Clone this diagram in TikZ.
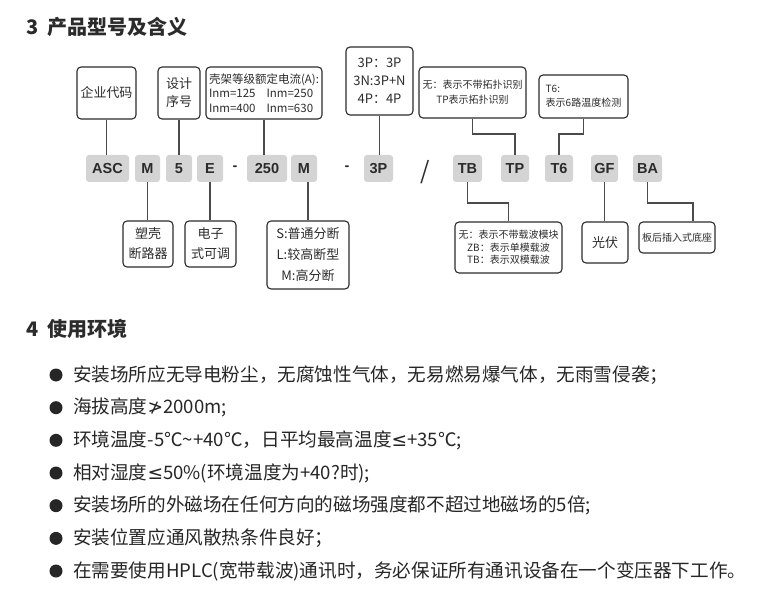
\documentclass[tikz,border=0pt]{standalone}
\usepackage{fontspec}
\setmainfont{Noto Sans CJK SC}
\newfontfamily\codefont{Liberation Sans}
\newfontfamily\symfont{DejaVu Sans}
\usetikzlibrary{calc}
\definecolor{codegray}{HTML}{D4D4D4}
\definecolor{inkgray}{HTML}{2B2B2B}
\begin{document}
\begin{tikzpicture}[x=1pt,y=-1pt,
  codebox/.style={fill=codegray,rounded corners=3pt,minimum height=27pt,inner sep=0pt,
    font=\codefont\bfseries\fontsize{14.5}{16}\selectfont,text=inkgray},
  codemark/.style={inner sep=0pt,font=\codefont\bfseries\fontsize{14.5}{16}\selectfont,text=inkgray},
  notebox/.style={draw=inkgray,line width=1.1pt,rounded corners=4pt,inner sep=0pt,align=center,text=inkgray},
  link/.style={draw=inkgray!85,line width=1.1pt},
  headline/.style={anchor=west,inner sep=0pt,font=\bfseries\fontsize{20}{24}\selectfont,text=inkgray},
  bulletline/.style={anchor=west,inner sep=0pt,font=\fontsize{18.6}{22}\selectfont,text=black!85},
  dot/.style={circle,fill=black!85,inner sep=0pt,minimum size=13pt}]
  \useasboundingbox (0,0) rectangle (764,607);
  % section headings
  \node[headline] (sec3) at (26,27) {3\hspace{9pt}产品型号及含义};
  \node[headline] (sec4) at (26,329) {4\hspace{9pt}使用环境};
  % model code
  \node[codebox,minimum width=43pt] (asc) at (107.5,168.5) {ASC};
  \node[codebox,minimum width=25pt] (m1) at (147.5,168.5) {M};
  \node[codebox,minimum width=26pt] (five) at (179,168.5) {5};
  \node[codebox,minimum width=26pt] (e) at (210,168.5) {E};
  \node[codemark] (dashA) at (235,168) {-};
  \node[codebox,minimum width=40pt] (amp) at (267,168.5) {250};
  \node[codebox,minimum width=26pt] (m2) at (304,168.5) {M};
  \node[codemark] (dashB) at (347,168) {-};
  \node[codebox,minimum width=29pt] (pole) at (378.5,168.5) {3P};
  \node[inner sep=0pt,font=\fontsize{24}{26}\selectfont,text=inkgray] (slash) at (425,172) {/};
  \node[codebox,minimum width=29pt] (tb) at (467.5,168.5) {TB};
  \node[codebox,minimum width=28pt] (tp) at (515,168.5) {TP};
  \node[codebox,minimum width=28pt] (t6) at (559,168.5) {T6};
  \node[codebox,minimum width=27pt] (gf) at (604.5,168.5) {GF};
  \node[codebox,minimum width=29pt] (ba) at (647.5,168.5) {BA};
  % notes above
  \node[notebox,minimum width=59pt,minimum height=52pt,font=\fontsize{13}{17}\selectfont] (maker) at (106.5,93) {企业代码};
  \node[notebox,minimum width=42pt,minimum height=52pt,font=\fontsize{13}{18}\selectfont] (design) at (179,93) {设计\\序号};
  \node[notebox,minimum width=116pt,minimum height=52pt,align=left,font=\fontsize{11.5}{14.5}\selectfont] (frame) at (264,93)
    {壳架等级额定电流(A):\\Inm=125\hspace{11pt}Inm=250\\Inm=400\hspace{11pt}Inm=630};
  \node[notebox,minimum width=67pt,minimum height=68pt,font=\fontsize{13}{18}\selectfont] (poles) at (379.5,81) {3P：3P\\3N:3P+N\\4P：4P};
  \node[notebox,minimum width=107pt,minimum height=51pt,font=\fontsize{10}{15}\selectfont] (topo) at (472.5,92.5) {无：表示不带拓扑识别\\TP表示拓扑识别};
  \node[notebox,minimum width=89pt,minimum height=43pt,align=left,font=\fontsize{10}{14}\selectfont] (temp) at (583.5,96.5) {T6:\\表示6路温度检测};
  % notes below
  \node[notebox,minimum width=50pt,minimum height=46pt,font=\fontsize{13}{20}\selectfont] (mccb) at (148,244) {塑壳\\断路器};
  \node[notebox,minimum width=51pt,minimum height=46pt,font=\fontsize{13}{20}\selectfont] (electronic) at (210.5,244) {电子\\式可调};
  \node[notebox,minimum width=82pt,minimum height=68pt,font=\fontsize{13}{21}\selectfont] (breaking) at (308,255) {S:普通分断\\L:较高断型\\M:高分断};
  \node[notebox,minimum width=107pt,minimum height=51pt,font=\fontsize{10}{12.5}\selectfont] (carrier) at (508.5,247.5)
    {无：表示不带载波模块\\ZB：表示单模载波\\TB：表示双模载波};
  \node[notebox,minimum width=46pt,minimum height=41pt,font=\fontsize{13}{15}\selectfont] (pv) at (605,242.5) {光伏};
  \node[notebox,minimum width=76pt,minimum height=31pt,font=\fontsize{10}{12}\selectfont] (base) at (677,237.5) {板后插入式底座};
  % connectors
  \coordinate (upbend) at (0,134);
  \coordinate (lowbend) at (0,203);
  \draw[link] (maker.south) -- (maker.south |- asc.north);
  \draw[link] (design.south) -- (design.south |- five.north);
  \draw[link] (frame.south) -- (frame.south |- amp.north);
  \draw[link] (poles.south) -- (poles.south |- pole.north);
  \draw[link] (topo.south) |- (tp.north |- upbend) -- (tp.north);
  \draw[link] (temp.south) |- (t6.north |- upbend) -- (t6.north);
  \draw[link] (m1.south) -- (m1.south |- mccb.north);
  \draw[link] (e.south) -- (e.south |- electronic.north);
  \draw[link] (breaking.north |- m2.south) -- (breaking.north);
  \draw[link] (tb.south) |- (carrier.north |- lowbend) -- (carrier.north);
  \draw[link] (gf.south) -- (gf.south |- pv.north);
  \draw[link] (ba.south) |- ($(base.north |- lowbend)+(16,0)$) -- ($(base.north)+(16,0)$);
  % environment list
  \foreach \txt [count=\i] in {
    {安装场所应无导电粉尘，无腐蚀性气体，无易燃易爆气体，无雨雪侵袭；},
    {海拔高度{\symfont ≯}2000m;},
    {环境温度-5℃\textasciitilde+40℃，日平均最高温度{\symfont ≤}+35℃;},
    {相对湿度{\symfont ≤}50\%(环境温度为+40?时);},
    {安装场所的外磁场在任何方向的磁场强度都不超过地磁场的5倍;},
    {安装位置应通风散热条件良好；},
    {在需要使用HPLC(宽带载波)通讯时，务必保证所有通讯设备在一个变压器下工作。}} {
    \node[dot] (dot\i) at (56,{375+(\i-1)*32.67}) {};
    \node[bulletline] (item\i) at (73,{375+(\i-1)*32.67}) {\txt};
  }
\end{tikzpicture}
\end{document}
